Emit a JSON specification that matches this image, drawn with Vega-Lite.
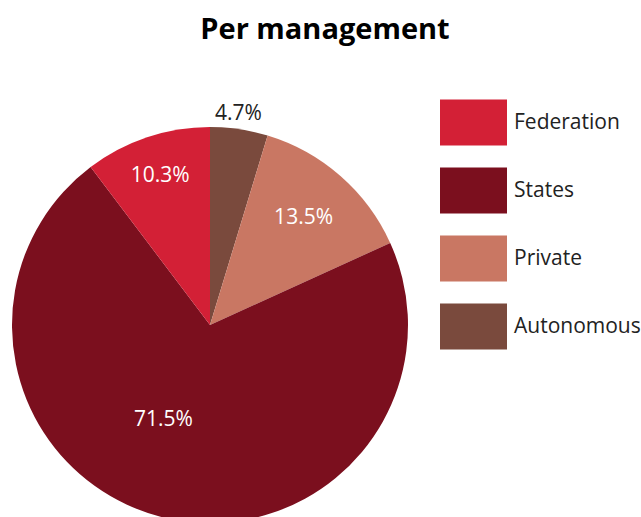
{
  "$schema": "https://vega.github.io/schema/vega-lite/v6.json",
  "width": 384,
  "height": 384,
  "autosize": {"type": "none"},
  "padding": {"left": 18, "top": 133, "right": 239, "bottom": 0},
  "background": "white",
  "title": {
    "text": "Per management",
    "font": "Open Sans",
    "fontSize": 29,
    "fontWeight": "bold",
    "color": "#000000",
    "anchor": "middle",
    "frame": "group",
    "dx": 115,
    "offset": 44
  },
  "data": {
    "values": [
      {"category": "Autonomous", "share": 4.7, "label": "4.7%", "seq": 1},
      {"category": "Private", "share": 13.5, "label": "13.5%", "seq": 2},
      {"category": "States", "share": 71.5, "label": "71.5%", "seq": 3},
      {"category": "Federation", "share": 10.3, "label": "10.3%", "seq": 4}
    ]
  },
  "encoding": {
    "theta": {"field": "share", "type": "quantitative", "stack": true},
    "order": {"field": "seq", "type": "quantitative", "sort": "ascending"}
  },
  "layer": [
    {
      "mark": {"type": "arc", "outerRadius": 198},
      "encoding": {
        "color": {
          "field": "category",
          "type": "nominal",
          "scale": {
            "domain": ["Federation", "States", "Private", "Autonomous"],
            "range": ["#D32036", "#7B0F1E", "#C97763", "#7A4A3D"]
          },
          "legend": {
            "title": null,
            "orient": "none",
            "legendX": 422,
            "legendY": -44,
            "symbolType": "M-1,-0.687H1V0.687H-1Z",
            "symbolSize": 4489,
            "symbolStrokeWidth": 0,
            "symbolOpacity": 1,
            "labelFont": "Open Sans",
            "labelFontSize": 21,
            "labelColor": "#222222",
            "labelOffset": 7,
            "rowPadding": 11,
            "padding": 0
          }
        }
      }
    },
    {
      "mark": {"type": "text", "radius": 157, "font": "Open Sans", "fontSize": 21, "color": "white", "baseline": "middle"},
      "encoding": {"text": {"condition": {"test": "datum.category === 'Federation'", "field": "label"}, "value": ""}}
    },
    {
      "mark": {"type": "text", "radius": 142, "font": "Open Sans", "fontSize": 21, "color": "white", "baseline": "middle"},
      "encoding": {"text": {"condition": {"test": "datum.category === 'Private'", "field": "label"}, "value": ""}}
    },
    {
      "mark": {"type": "text", "radius": 104, "dx": -21, "dy": -6, "font": "Open Sans", "fontSize": 21, "color": "white", "baseline": "middle"},
      "encoding": {"text": {"condition": {"test": "datum.category === 'States'", "field": "label"}, "value": ""}}
    },
    {
      "mark": {"type": "text", "radius": 214, "dx": -3, "dy": 1, "font": "Open Sans", "fontSize": 21, "color": "#222222", "baseline": "middle"},
      "encoding": {"text": {"condition": {"test": "datum.category === 'Autonomous'", "field": "label"}, "value": ""}}
    }
  ]
}
